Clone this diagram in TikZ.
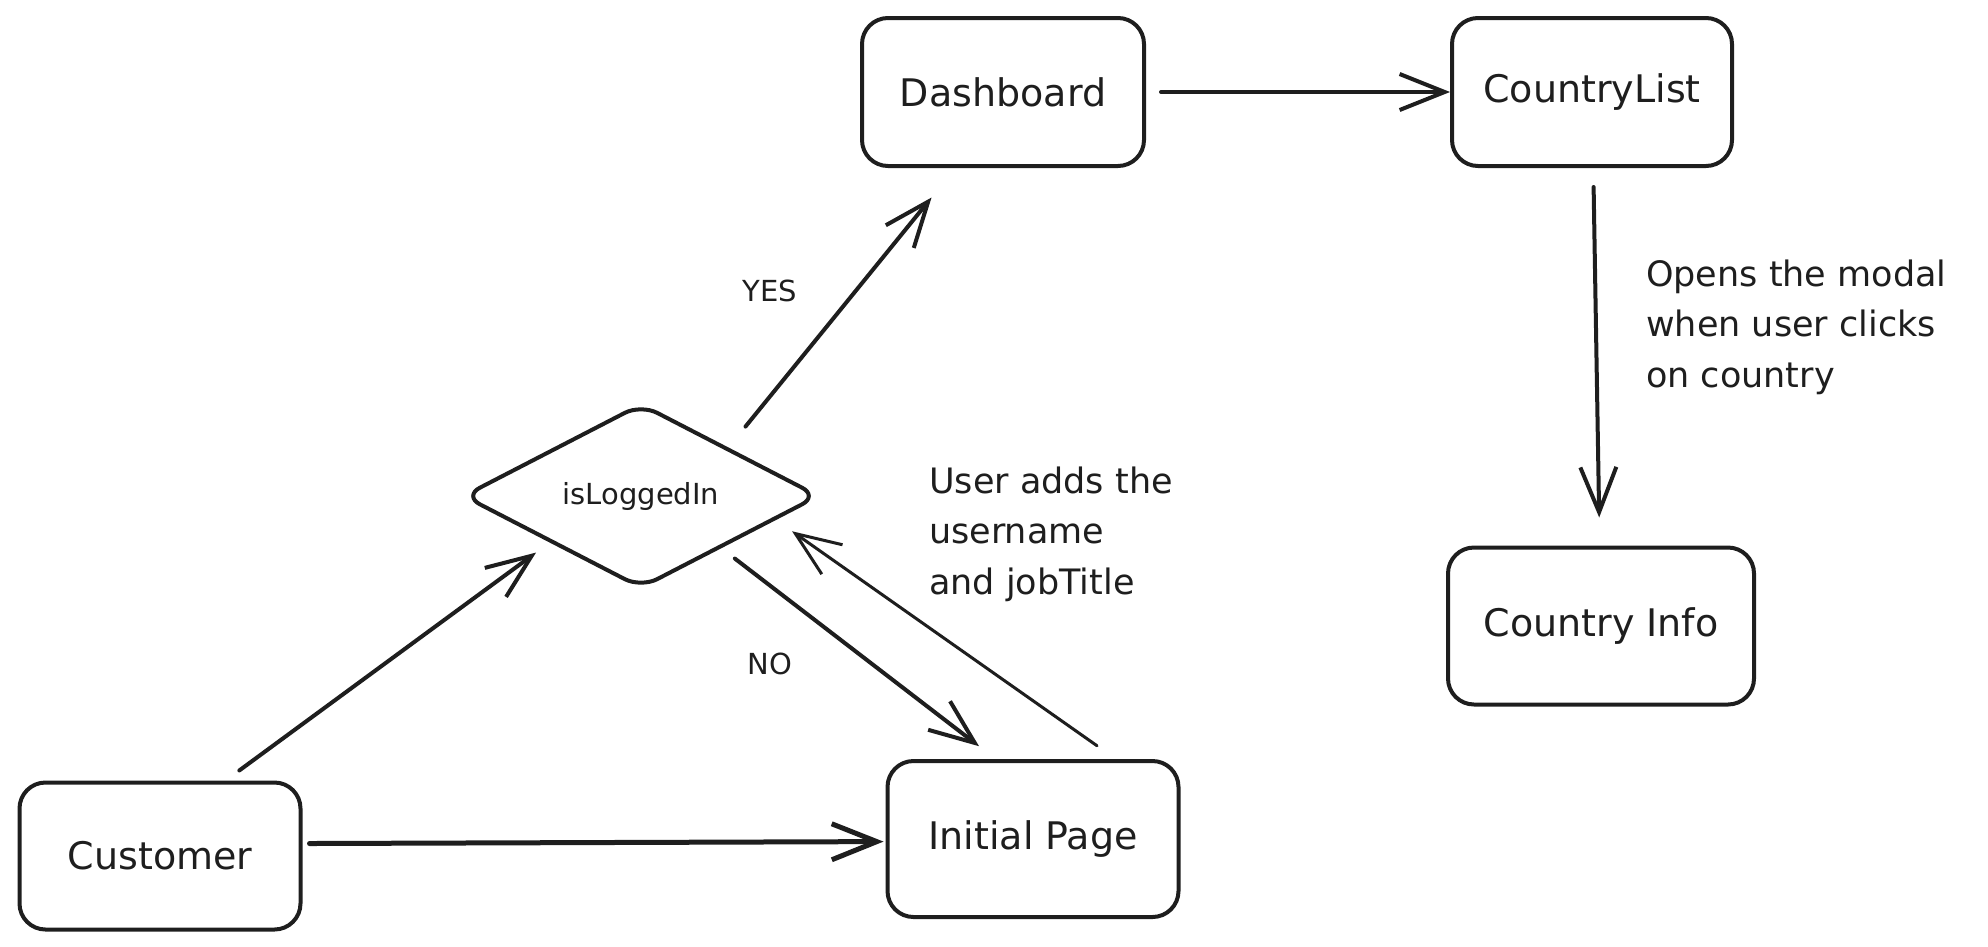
\documentclass[tikz,border=0pt]{standalone}
\usepackage{fontspec}
\setmainfont{DejaVu Sans}
\usetikzlibrary{arrows.meta,shapes.geometric}
\definecolor{ink}{HTML}{1E1E1E}

\begin{document}
\begin{tikzpicture}[
    x=1pt, y=-1pt,
    >={Straight Barb[length=45pt,width=36pt]},
    every node/.style={
        text=ink
    },
    state/.style={
        draw=ink,
        rectangle,
        rounded corners=26pt,
        line width=4pt,
        inner sep=0pt,
        font=\fontsize{38}{44}\selectfont
    },
    decision/.style={
        draw=ink,
        diamond,
        rounded corners=18pt,
        line width=4pt,
        minimum width=356pt,
        minimum height=184pt,
        inner sep=0pt,
        font=\fontsize{29}{35}\selectfont
    },
    flow/.style={
        ->,
        draw=ink,
        line width=4pt,
        line cap=round,
        line join=round
    },
    note/.style={
        align=left,
        inner sep=0pt,
        font=\fontsize{35}{50.5}\selectfont
    },
    answer/.style={
        inner sep=0pt,
        font=\fontsize{29}{35}\selectfont
    }
    ]
    \useasboundingbox (0,0) rectangle (1988,946);

    % boxes
    \node[state,minimum width=282pt,minimum height=148pt] (dash)  at (1003,92)  {Dashboard};
    \node[state,minimum width=280pt,minimum height=148pt] (clist) at (1592,92)  {CountryList};
    \node[state,minimum width=306pt,minimum height=157pt] (cinfo) at (1601,626) {Country Info};
    \node[state,minimum width=281pt,minimum height=147pt] (cust)  at (160,856)  {Customer};
    \node[state,minimum width=291pt,minimum height=156pt] (init)  at (1033,839) {Initial Page};
    \node[decision] (logged) at (641,496) {isLoggedIn};

    % labels
    \node[answer] (yes) at (770,291) {YES};
    \node[answer] (no)  at (770,664) {NO};
    \node[note,anchor=west] (addnote)  at (929,534)  {User adds the\\username\\and jobTitle};
    \node[note,anchor=west] (opennote) at (1646,327) {Opens the modal\\when user clicks\\on country};

    % arrows
    \draw[flow,shorten <=15pt] (dash) -- (clist);
    \draw[flow,shorten <=19pt,shorten >=28pt] (clist) -- (cinfo);
    \draw[flow,line width=5pt,shorten <=7pt,shorten >=2pt] (cust.5) -- (init.181);
    \draw[flow,shorten <=17pt,shorten >=17pt] (cust.49) -- (logged.207);
    \draw[flow,shorten <=27pt,shorten >=38pt] (logged.29.5) -- (dash.-122);
    \draw[flow,shorten <=17pt,shorten >=21pt] (logged.-33.6) -- (init.115);
    \draw[flow,line width=3pt,shorten <=23pt,shorten >=20pt] (init.44.5) -- (logged.-10);
\end{tikzpicture}
\end{document}
